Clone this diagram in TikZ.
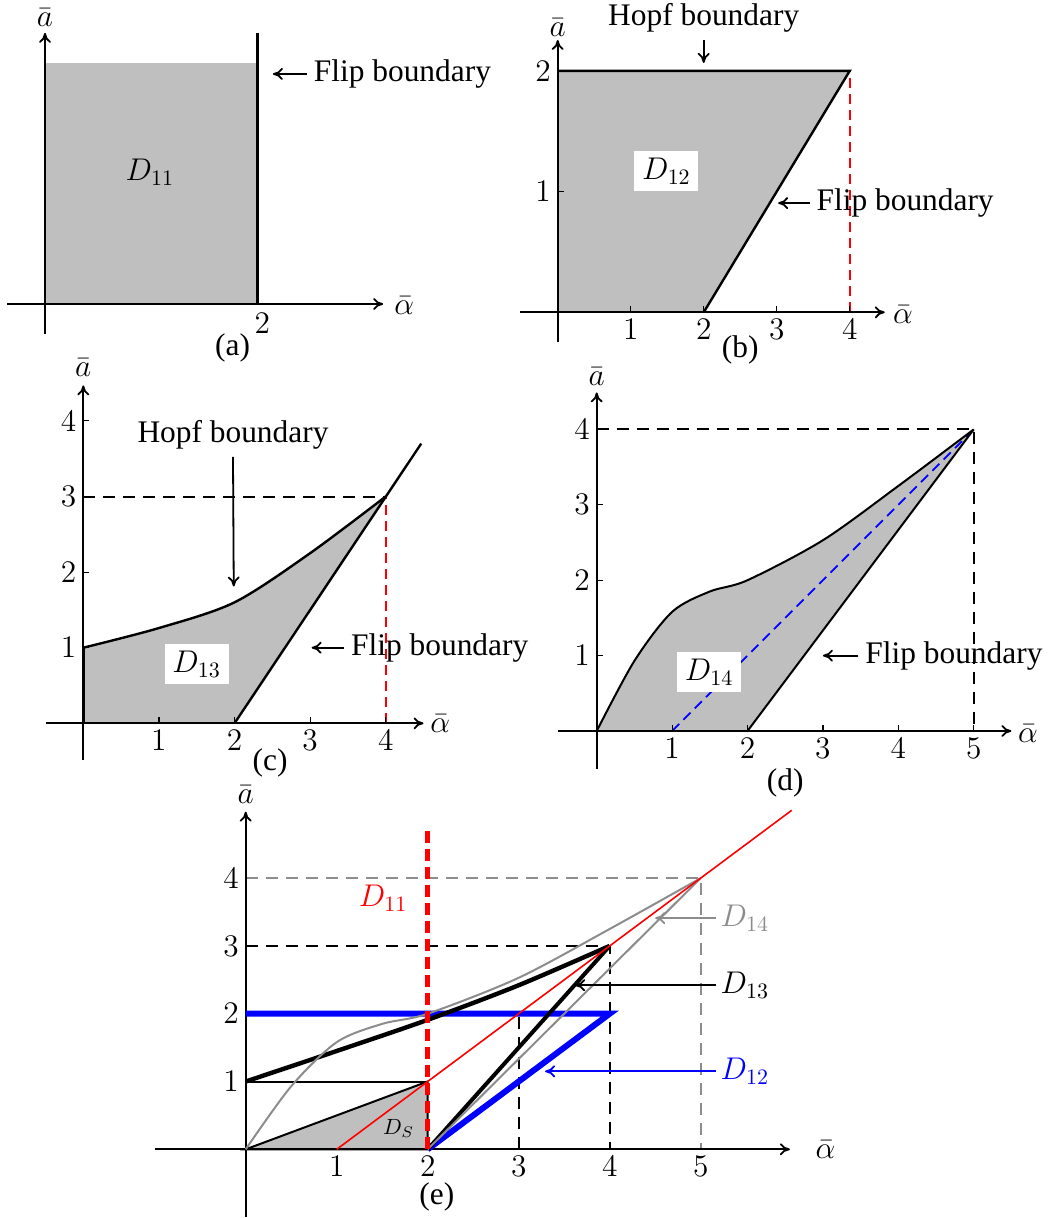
\documentclass[tikz,border=0pt]{standalone}
\usepackage{fix-cm}
\usepackage{fontspec}
\setmainfont{Liberation Serif}
\usetikzlibrary{arrows.meta}
\definecolor{regiongray}{gray}{0.75}
\definecolor{midgray}{gray}{0.55}

\begin{document}
\begin{tikzpicture}[
    x=0.5pt, y=-0.5pt,
    font=\fontsize{15.7}{18}\selectfont,
    axis/.style={-{To[length=5pt,width=6pt]}, line width=0.9pt},
    bnd/.style={line width=1.2pt},
    arr/.style={-{To[length=5pt,width=6pt]}, line width=0.9pt},
    guide/.style={dash pattern=on 6pt off 4pt, line width=1pt},
    tag/.style={fill=white, inner sep=0pt, minimum width=32pt, minimum height=20pt},
    tick/.style={line width=0.6pt},
    lab/.style={anchor=west, inner xsep=2pt}
]
\useasboundingbox (0,0) rectangle (1049,1218);

% (a)
\begin{scope}[shift={(45,304)}, x=53pt, y=53pt]
    \fill[regiongray] (0,0) rectangle (2,2.274);
    \draw[axis] (-0.358,0) -- (3.19,0);
    \draw[axis] (0,-0.283) -- (0,2.557);
    \draw[bnd, line width=1.5pt] (2,0) -- (2,2.557);
    \node (yA) at (0,2.70) {$\bar a$};
    \node[inner sep=1pt] (xA) at (3.39,-0.02) {$\bar\alpha$};
    \node (twoA) at (2.05,-0.18) {$2$};
    \node (capA) at (1.77,-0.41) {(a)};
    \node (regA) at (0.99,1.24) {$D_{11}$};
    \node[anchor=west] (flipA) at (2.47,2.17) {Flip boundary};
    \coordinate (flipTipA) at (2.15,2.17);
    \draw[arr] (flipA.west) -- (flipTipA);
\end{scope}

% (b)
\begin{scope}[shift={(557.7,312.3)}, x=36.5pt, y=60.35pt]
    \fill[regiongray] (0,0) -- (0,2) -- (4,2) -- (2,0) -- cycle;
    \draw[red, dash pattern=on 5pt off 3pt, line width=0.8pt] (4,0) -- (4,2);
    \draw[axis] (-0.516,0) -- (4.48,0);
    \draw[axis] (0,-0.244) -- (0,2.256);
    \draw[bnd] (0,2) -- (4,2) -- (2,0);
    \foreach \i in {1,...,4} {
        \draw[tick] (\i,0) -- ++(0,3pt);
        \node[below] (xtB\i) at (\i,0) {$\i$};
    }
    \foreach \j in {1,2} {
        \draw[tick] (0,\j) -- ++(3pt,0);
        \node[left] (ytB\j) at (0,\j) {$\j$};
    }
    \node (yB) at (0,2.355) {$\bar a$};
    \node (xB) at (4.73,-0.02) {$\bar\alpha$};
    \node (capB) at (2.5,-0.31) {(b)};
    \node[tag] (regB) at (1.49,1.17) {$D_{12}$};
    \node (hopfB) at (2,2.436) {Hopf boundary};
    \coordinate (hopfTipB) at (2,2.066);
    \draw[arr] (hopfB.south) -- (hopfTipB);
    \node[anchor=west] (flipB) at (3.45,0.905) {Flip boundary};
    \coordinate (flipTipB) at (3.02,0.905);
    \draw[arr] (flipB.west) -- (flipTipB);
\end{scope}

% (c)
\begin{scope}[shift={(83.3,723.3)}, x=37.8pt, y=37.8pt]
    \fill[regiongray] (2,0) -- (0,0) -- plot[smooth] coordinates {(0,1) (1,1.26) (2,1.6) (3,2.25) (4,3)} -- cycle;
    \draw[guide] (0,3) -- (4,3);
    \draw[red, dash pattern=on 5pt off 3pt, line width=0.8pt] (4,0) -- (4,3);
    \draw[axis] (-0.5,0) -- (4.5,0);
    \draw[axis] (0,-0.485) -- (0,4.47);
    \draw[bnd] plot[smooth] coordinates {(0,1) (1,1.26) (2,1.6) (3,2.25) (4,3)};
    \draw[bnd] (2,0) -- (4.47,3.7);
    \draw[line width=1.2pt] (0,0) -- (0,1);
    \foreach \i in {1,...,4} {
        \draw[tick] (\i,0) -- ++(0,3pt);
        \node[below] (xtC\i) at (\i,0) {$\i$};
        \draw[tick] (0,\i) -- ++(3pt,0);
        \node[left] (ytC\i) at (0,\i) {$\i$};
    }
    \node (yC) at (0,4.71) {$\bar a$};
    \node (xC) at (4.72,0) {$\bar\alpha$};
    \node (capC) at (2.47,-0.53) {(c)};
    \node[tag] (regC) at (1.5,0.78) {$D_{13}$};
    \node (hopfC) at (1.98,3.81) {Hopf boundary};
    \coordinate (hopfTipC) at (1.99,1.81);
    \draw[arr] (hopfC.south) -- (hopfTipC);
    \node[anchor=west] (flipC) at (3.45,1.0) {Flip boundary};
    \coordinate (flipTipC) at (3.02,1.0);
    \draw[arr] (flipC.west) -- (flipTipC);
\end{scope}

% (d)
\begin{scope}[shift={(596.7,731)}, x=37.7pt, y=37.7pt]
    \fill[regiongray] (2,0) -- (0,0) -- plot[smooth] coordinates {(0,0) (0.5,0.93) (1,1.58) (1.5,1.85) (2,2) (3,2.53) (4,3.25) (5,4)} -- cycle;
    \draw[guide] (0,4) -- (5,4) -- (5,0);
    \draw[blue, dash pattern=on 5pt off 3pt, line width=0.8pt] (1,0) -- (5,4);
    \draw[axis] (-0.51,0) -- (5.5,0);
    \draw[axis] (0,-0.5) -- (0,4.49);
    \draw[line width=1pt] plot[smooth] coordinates {(0,0) (0.5,0.93) (1,1.58) (1.5,1.85) (2,2) (3,2.53) (4,3.25) (5,4)};
    \draw[line width=1pt] (2,0) -- (5,4);
    \foreach \i in {1,...,5} {
        \draw[tick] (\i,0) -- ++(0,3pt);
        \node[below] (xtD\i) at (\i,0) {$\i$};
    }
    \foreach \j in {1,...,4} {
        \draw[tick] (0,\j) -- ++(3pt,0);
        \node[left] (ytD\j) at (0,\j) {$\j$};
    }
    \node (yD) at (0,4.7) {$\bar a$};
    \node (xD) at (5.72,-0.03) {$\bar\alpha$};
    \node (capD) at (2.5,-0.69) {(d)};
    \node[tag] (regD) at (1.49,0.78) {$D_{14}$};
    \node[anchor=west] (flipD) at (3.47,1.0) {Flip boundary};
    \coordinate (flipTipD) at (3.0,1.0);
    \draw[arr] (flipD.west) -- (flipTipD);
\end{scope}

% (e)
\begin{scope}[shift={(245.7,1149.3)}, x=45.5pt, y=33.9pt]
    \filldraw[fill=regiongray, line width=1pt] (0,0) -- (2,1) -- (2,0) -- cycle;
    \draw[line width=1pt] (0,1) -- (2,1);
    \draw[guide] (0,3) -- (4,3) -- (4,0);
    \draw[guide] (3,0) -- (3,2);
    \draw[guide, midgray] (0,4) -- (5,4) -- (5,0);
    \draw[axis] (-1.0,0) -- (5.98,0);
    \draw[axis] (0,-1.0) -- (0,4.98);
    \draw[blue, line width=3pt, line join=miter] (0,2) -- (4,2) -- (2,0);
    \draw[line width=2.2pt] plot[smooth] coordinates {(0,1) (1,1.45) (2,1.91) (3,2.42) (4,3)};
    \draw[line width=2pt] (2,0) -- (4,3);
    \draw[midgray, line width=1pt] plot[smooth] coordinates {(0,0) (0.5,0.93) (1,1.58) (1.5,1.85) (2,2) (3,2.53) (4,3.25) (5,4)};
    \draw[midgray, line width=1pt] (2,0) -- (5,4);
    \draw[red, line width=0.8pt] (1,0) -- (6,5);
    \draw[red, line width=2.5pt, dash pattern=on 6pt off 3pt] (2,0) -- (2,4.7);
    \foreach \i in {1,...,5} {
        \node[below] (xtE\i) at (\i,0) {$\i$};
    }
    \foreach \j in {1,...,4} {
        \node[left] (ytE\j) at (0,\j) {$\j$};
    }
    \node (yE) at (0,5.23) {$\bar a$};
    \node (xE) at (6.37,0) {$\bar\alpha$};
    \node (capE) at (2.1,-0.7) {(e)};
    \node[red] (regE11) at (1.51,3.7) {$D_{11}$};
    \node[font=\fontsize{11}{13}\selectfont] (regES) at (1.68,0.31) {$D_S$};
    \node[lab, midgray] (labE14) at (5.17,3.41) {$D_{14}$};
    \coordinate (tipE14) at (4.5,3.41);
    \draw[arr, midgray] (labE14.west) -- (tipE14);
    \node[lab] (labE13) at (5.17,2.42) {$D_{13}$};
    \coordinate (tipE13) at (3.62,2.42);
    \draw[arr] (labE13.west) -- (tipE13);
    \node[lab, blue] (labE12) at (5.17,1.15) {$D_{12}$};
    \coordinate (tipE12) at (3.29,1.15);
    \draw[arr, blue] (labE12.west) -- (tipE12);
\end{scope}
\end{tikzpicture}
\end{document}
